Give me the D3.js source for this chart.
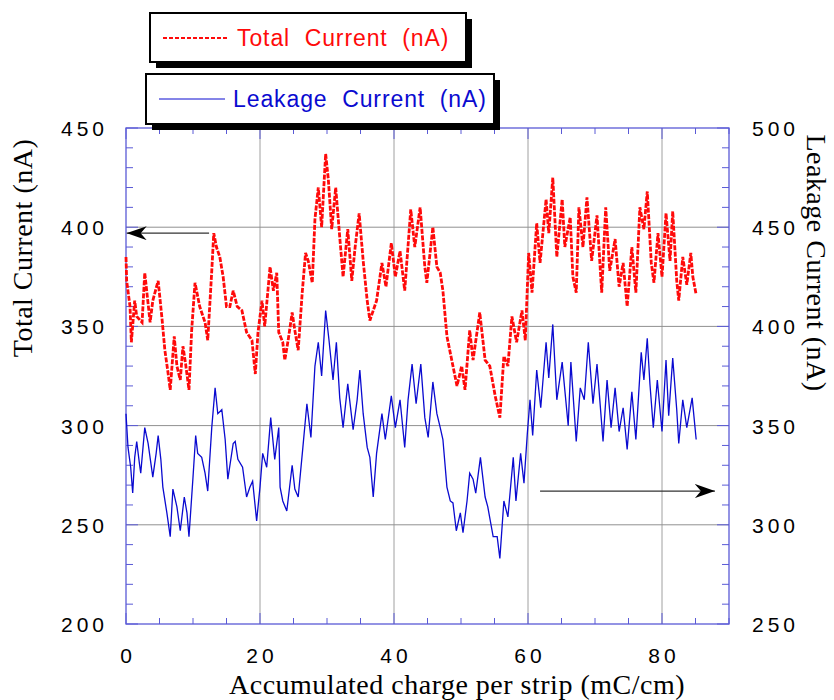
<!DOCTYPE html>
<html>
<head>
<meta charset="utf-8">
<script src="https://cdn.jsdelivr.net/npm/d3@7"></script>
<style>
  body { margin: 0; background: #fff; }
  .tick-label { font-family: "Liberation Sans", Arial, sans-serif; font-size: 21px; letter-spacing: 4px; fill: #000; }
  .axis-title { font-family: "Liberation Serif", "Times New Roman", serif; font-size: 28px; letter-spacing: 0.5px; fill: #000; }
  .legend-text { font-family: "Liberation Sans", Arial, sans-serif; font-size: 23px; letter-spacing: 0.9px; white-space: pre; }
</style>
</head>
<body>
<svg id="chart" width="834" height="700"></svg>
<script>
// charge per strip (mC/cm) and total current (nA), left axis
const totalX = [0, 0.1, 0.6, 0.8, 1.3, 1.6, 2.4, 2.8, 3.6, 4.0, 4.8, 5.4, 5.8, 6.3, 6.6, 7.2, 7.6, 8.1, 8.5, 8.9,
  9.4, 9.8, 10.3, 11.0, 11.8, 12.2, 12.8, 13.1, 13.5, 14.0, 14.5, 15.0, 15.5, 16.0, 16.6, 17.3, 18.0, 18.8, 19.3, 19.7,
  20.3, 20.7, 21.5, 22.0, 22.5, 22.8, 23.4, 23.7, 24.2, 24.8, 25.2, 25.7, 26.3, 26.8, 27.2, 27.8, 28.2, 28.7, 29.2, 29.8,
  30.2, 30.7, 31.3, 31.9, 32.4, 33.1, 33.7, 34.2, 34.8, 35.4, 36.0, 36.4, 37.4, 38.2, 38.8, 39.6, 40.2, 40.9, 41.6, 42.5,
  43.1, 43.9, 44.6, 44.9, 45.8, 46.4, 46.9, 47.3, 47.9, 48.8, 49.4, 50.1, 50.6, 51.3, 51.8, 52.8, 53.6, 54.3, 55.1, 55.8,
  56.4, 57.0, 57.6, 58.3, 59.1, 59.6, 60.1, 60.6, 61.3, 61.8, 62.7, 63.1, 63.7, 64.3, 65.1, 65.5, 66.3, 66.7, 67.2, 67.6,
  68.2, 68.8, 69.5, 70.3, 71.0, 71.6, 72.2, 73.0, 73.6, 74.2, 74.8, 75.5, 76.1, 76.7, 77.3, 77.8, 78.4, 78.8, 79.4, 80.0,
  80.6, 81.2, 81.6, 82.2, 82.5, 83.1, 83.7, 84.3, 84.6, 85.1];
const totalY = [385, 373, 360, 342, 363, 355, 352, 377, 352, 363, 373, 353, 338, 326, 318, 345, 330, 323, 340, 331,
  318, 348, 372, 360, 352, 343, 378, 397, 390, 385, 375, 360, 360, 368, 360, 358, 347, 343, 326, 347,
  363, 350, 380, 368, 377, 347, 342, 333, 343, 357, 348, 338, 367, 387, 383, 372, 404, 420, 400, 437,
  424, 399, 420, 395, 375, 399, 373, 390, 407, 383, 363, 353, 363, 382, 370, 392, 375, 388, 368, 409,
  390, 410, 380, 372, 400, 380, 377, 368, 345, 330, 320, 330, 318, 348, 333, 357, 333, 330, 315, 304,
  335, 330, 355, 342, 358, 343, 387, 367, 402, 382, 414, 397, 425, 385, 414, 390, 405, 375, 367, 410,
  390, 415, 383, 406, 367, 410, 378, 394, 370, 382, 360, 390, 367, 410, 399, 418, 382, 372, 397, 375,
  407, 383, 408, 373, 363, 385, 371, 387, 375, 366];

// leakage current (nA), right axis
const leakX = [0, 0.3, 0.7, 1.0, 1.3, 1.6, 2.0, 2.2, 2.8, 3.3, 4.0, 4.5, 4.8, 5.2, 5.5, 6.1, 6.6, 7.0, 7.6, 8.1,
  8.7, 9.1, 9.4, 10.0, 10.4, 10.7, 11.3, 11.8, 12.2, 12.8, 13.3, 13.7, 14.3, 14.8, 15.2, 16.0, 16.3, 16.7, 17.4, 18.0,
  18.5, 18.9, 19.5, 20.0, 20.4, 21.0, 21.6, 22.2, 22.8, 23.0, 23.4, 24.0, 24.8, 25.2, 25.7, 26.4, 27.0, 27.6, 28.2, 28.7,
  29.2, 29.8, 30.3, 30.9, 31.4, 31.9, 32.4, 33.1, 33.9, 34.5, 34.9, 35.4, 36.0, 36.4, 36.9, 37.4, 38.2, 38.7, 39.6, 40.2,
  40.9, 41.6, 42.1, 42.7, 43.3, 44.0, 44.6, 45.1, 45.8, 46.4, 46.9, 47.3, 47.9, 48.4, 48.8, 49.3, 49.9, 50.3, 50.9, 51.3,
  51.8, 52.2, 52.9, 53.6, 54.0, 54.8, 55.4, 55.8, 56.4, 57.0, 57.8, 58.2, 58.9, 59.4, 59.9, 60.3, 60.7, 61.3, 61.9, 62.7,
  63.1, 63.7, 64.3, 65.1, 66.0, 66.4, 67.2, 67.8, 68.4, 69.0, 69.7, 70.3, 71.2, 71.8, 72.4, 73.0, 73.6, 74.2, 74.8, 75.5,
  76.1, 76.9, 77.3, 77.8, 78.2, 78.7, 79.3, 80.0, 80.6, 81.0, 81.6, 82.2, 82.5, 83.1, 83.7, 84.5, 85.1];
const leakY = [356, 339, 329, 316, 334, 342, 331, 326, 349, 341, 324, 336, 345, 333, 319, 306, 294, 318, 309, 297,
  314, 306, 294, 324, 345, 336, 334, 326, 317, 349, 369, 356, 358, 343, 323, 341, 342, 333, 329, 314,
  319, 322, 302, 319, 336, 329, 354, 333, 349, 319, 312, 307, 330, 318, 314, 339, 361, 344, 380, 392,
  375, 408, 393, 373, 392, 364, 349, 371, 348, 363, 378, 356, 339, 334, 314, 336, 356, 343, 365, 349,
  363, 339, 363, 381, 361, 381, 354, 344, 372, 356, 349, 343, 319, 312, 311, 297, 306, 296, 312, 326,
  323, 316, 334, 314, 309, 294, 294, 283, 312, 304, 334, 312, 336, 321, 346, 363, 345, 378, 359, 392,
  374, 401, 363, 382, 350, 382, 342, 369, 363, 392, 361, 381, 342, 373, 349, 369, 347, 359, 338, 367,
  343, 387, 373, 394, 371, 349, 373, 347, 383, 355, 384, 358, 341, 363, 349, 364, 343];

const xTicks = [0, 20, 40, 60, 80];
const leftTicks = [200, 250, 300, 350, 400, 450];
const rightTicks = [250, 300, 350, 400, 450, 500];

const svg = d3.select("#chart");
const plotLeft = 126, plotRight = 729, plotTop = 128, plotBottom = 624;
const frameColor = "#5a5ad6";

const x = d3.scaleLinear().domain([0, 90]).range([plotLeft, plotRight]);
const yL = d3.scaleLinear().domain([200, 450]).range([plotBottom, plotTop]);
const yR = d3.scaleLinear().domain([250, 500]).range([plotBottom, plotTop]);

// grid
svg.append("g").selectAll("line").data([20, 40, 60, 80]).join("line")
  .attr("x1", d => x(d)).attr("x2", d => x(d)).attr("y1", plotTop).attr("y2", plotBottom)
  .attr("stroke", "#a0a0a0").attr("stroke-width", 1);
svg.append("g").selectAll("line").data([250, 300, 350, 400]).join("line")
  .attr("x1", plotLeft).attr("x2", plotRight).attr("y1", d => yL(d)).attr("y2", d => yL(d))
  .attr("stroke", "#909090").attr("stroke-width", 1);

// minor ticks inside the frame
const ticks = svg.append("g").attr("stroke", frameColor).attr("stroke-width", 1);
d3.range(0, 91, 5).forEach(v => {
  const len = v % 20 === 0 ? 11 : 6;
  ticks.append("line").attr("x1", x(v)).attr("x2", x(v)).attr("y1", plotTop).attr("y2", plotTop + len);
  ticks.append("line").attr("x1", x(v)).attr("x2", x(v)).attr("y1", plotBottom).attr("y2", plotBottom - len);
});
d3.range(200, 451, 10).forEach(v => {
  const len = v % 50 === 0 ? 12 : 7;
  ticks.append("line").attr("x1", plotLeft).attr("x2", plotLeft + len).attr("y1", yL(v)).attr("y2", yL(v));
  ticks.append("line").attr("x1", plotRight).attr("x2", plotRight - len).attr("y1", yL(v)).attr("y2", yL(v));
});

// frame
svg.append("rect").attr("x", plotLeft).attr("y", plotTop)
  .attr("width", plotRight - plotLeft).attr("height", plotBottom - plotTop)
  .attr("fill", "none").attr("stroke", frameColor).attr("stroke-width", 1.3);

// series
const lineTotal = d3.line().x(d => x(d[0])).y(d => yL(d[1]));
const lineLeak = d3.line().x(d => x(d[0])).y(d => yR(d[1]));
svg.append("path").datum(d3.zip(leakX, leakY)).attr("d", lineLeak)
  .attr("fill", "none").attr("stroke", "#0a0ad0").attr("stroke-width", 1.3);
svg.append("path").datum(d3.zip(totalX, totalY)).attr("d", lineTotal)
  .attr("fill", "none").attr("stroke", "#ff0a0a").attr("stroke-width", 2.8)
  .attr("stroke-dasharray", "5,1.5");

// arrows
svg.append("defs").append("marker").attr("id", "head")
  .attr("viewBox", "0 0 20 14").attr("refX", 20).attr("refY", 7)
  .attr("markerWidth", 20).attr("markerHeight", 14).attr("markerUnits", "userSpaceOnUse")
  .attr("orient", "auto")
  .append("path").attr("d", "M0,0 L20,7 L0,14 L6,7 Z").attr("fill", "#000");
svg.append("line").attr("x1", x(12.4)).attr("x2", x(0.1)).attr("y1", yL(397)).attr("y2", yL(397))
  .attr("stroke", "#333").attr("stroke-width", 1.2).attr("marker-end", "url(#head)");
svg.append("line").attr("x1", x(61.8)).attr("x2", x(87.9)).attr("y1", yL(267)).attr("y2", yL(267))
  .attr("stroke", "#333").attr("stroke-width", 1.2).attr("marker-end", "url(#head)");

// tick labels
svg.append("g").selectAll("text").data(leftTicks).join("text").attr("class", "tick-label")
  .attr("x", 108).attr("y", d => yL(d) + 8).attr("text-anchor", "end").text(d => d);
svg.append("g").selectAll("text").data(rightTicks).join("text").attr("class", "tick-label")
  .attr("x", 752).attr("y", d => yR(d) + 8).text(d => d);
svg.append("g").selectAll("text").data(xTicks).join("text").attr("class", "tick-label")
  .attr("x", d => x(d) + 2).attr("y", 663).attr("text-anchor", "middle").text(d => d);

// axis titles
svg.append("text").attr("class", "axis-title").attr("text-anchor", "middle")
  .attr("transform", "translate(32,248) rotate(-90)").text("Total Current (nA)");
svg.append("text").attr("class", "axis-title").attr("text-anchor", "middle")
  .attr("transform", "translate(807,263) rotate(90)").text("Leakage Current (nA)");
svg.append("text").attr("class", "axis-title").attr("text-anchor", "middle")
  .attr("x", 457).attr("y", 694).text("Accumulated charge per strip (mC/cm)");

// legend boxes
const legends = [
  { label: "Total  Current  (nA)", color: "#ff0a0a", dash: "4,2", width: 2, bx: 150, by: 13, bw: 316, bh: 49 },
  { label: "Leakage  Current  (nA)", color: "#0a0ad0", dash: null, width: 1, bx: 146, by: 74, bw: 348, bh: 50 }
];
legends.forEach(l => {
  const g = svg.append("g");
  g.append("rect").attr("x", l.bx + 6).attr("y", l.by + 6).attr("width", l.bw).attr("height", l.bh).attr("fill", "#000");
  g.append("rect").attr("x", l.bx).attr("y", l.by).attr("width", l.bw).attr("height", l.bh)
    .attr("fill", "#fff").attr("stroke", "#000").attr("stroke-width", 2);
  g.append("line").attr("x1", l.bx + 13).attr("x2", l.bx + 79).attr("y1", l.by + 25).attr("y2", l.by + 25)
    .attr("stroke", l.color).attr("stroke-width", l.width).attr("stroke-dasharray", l.dash);
  g.append("text").attr("class", "legend-text").attr("fill", l.color)
    .attr("x", l.bx + 87).attr("y", l.by + 33).text(l.label);
});
</script>
</body>
</html>
